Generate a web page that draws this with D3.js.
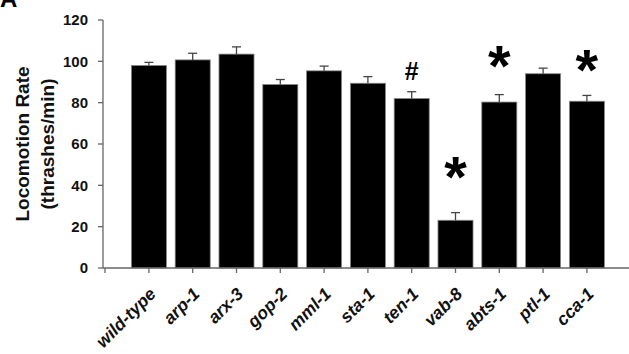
<!DOCTYPE html>
<html>
<head>
<meta charset="utf-8">
<script src="https://cdn.jsdelivr.net/npm/d3@7"></script>
<style>
  html, body { margin: 0; padding: 0; background: #fff; }
  svg { display: block; }
  text { font-family: Arial, "Liberation Sans", sans-serif; }
</style>
</head>
<body>
<svg id="chart" width="629" height="354"></svg>
<script>
const categories = ["wild-type", "arp-1", "arx-3", "gop-2", "mml-1", "sta-1", "ten-1", "vab-8", "abts-1", "ptl-1", "cca-1"];
const means      = [98.0, 100.7, 103.5, 88.8, 95.4, 89.4, 82.0, 23.1, 80.3, 94.0, 80.7];
const errors     = [1.5, 3.2, 3.5, 2.4, 2.3, 3.2, 3.3, 3.7, 3.6, 2.7, 2.8];
const marks      = [
  { cat: "ten-1",  sym: "#", level: 95.3 },
  { cat: "vab-8",  sym: "*", level: 50.8 },
  { cat: "abts-1", sym: "*", level: 104.3 },
  { cat: "cca-1",  sym: "*", level: 102.3 }
];
const yTicks = [0, 20, 40, 60, 80, 100, 120];

const svg = d3.select("#chart");
const axisX0 = 103, axisX1 = 629;
const y = d3.scaleLinear().domain([0, 120]).range([268, 20]);
const x = d3.scaleBand().domain(categories).range([127, 127 + 11 * 43.8]).paddingInner(0.2).paddingOuter(0.1);

const axisColor = "#666";

// bars
svg.append("g").selectAll("rect").data(categories).join("rect")
  .attr("x", d => x(d))
  .attr("width", x.bandwidth())
  .attr("y", (d, i) => y(means[i]))
  .attr("height", (d, i) => y(0) - y(means[i]))
  .attr("fill", "#000")
  .attr("stroke", "#888")
  .attr("stroke-width", 0.8);

// error bars (upper only)
const eg = svg.append("g").attr("stroke", "#444").attr("stroke-width", 1.3);
categories.forEach((c, i) => {
  const cx = x(c) + x.bandwidth() / 2;
  eg.append("line").attr("x1", cx).attr("x2", cx).attr("y1", y(means[i])).attr("y2", y(means[i] + errors[i]));
  eg.append("line").attr("x1", cx - 4.5).attr("x2", cx + 4.5).attr("y1", y(means[i] + errors[i])).attr("y2", y(means[i] + errors[i]));
});

// y axis
const ya = svg.append("g");
ya.append("line").attr("x1", axisX0).attr("x2", axisX0).attr("y1", y(0)).attr("y2", y(120)).attr("stroke", axisColor).attr("stroke-width", 1.3);
ya.selectAll("line.t").data(yTicks).join("line").attr("class", "t")
  .attr("x1", axisX0 - 5).attr("x2", axisX0).attr("y1", d => y(d)).attr("y2", d => y(d))
  .attr("stroke", axisColor).attr("stroke-width", 1.3);
ya.selectAll("text").data(yTicks).join("text")
  .attr("x", 88).attr("y", d => y(d)).attr("dy", "0.36em")
  .attr("text-anchor", "end").attr("font-weight", "bold").attr("font-size", 15)
  .attr("fill", "#111")
  .text(d => d);

// x axis
const xa = svg.append("g");
xa.append("line").attr("x1", axisX0).attr("x2", axisX1).attr("y1", y(0)).attr("y2", y(0)).attr("stroke", axisColor).attr("stroke-width", 1.3);
const tickXs = [axisX0 + 2].concat(categories.map(c => x(c) + x.bandwidth() / 2));
xa.selectAll("line.t").data(tickXs).join("line").attr("class", "t")
  .attr("x1", d => d).attr("x2", d => d).attr("y1", y(0)).attr("y2", y(0) + 5)
  .attr("stroke", axisColor).attr("stroke-width", 1.3);
xa.selectAll("text").data(categories).join("text")
  .attr("transform", d => `translate(${x(d) + x.bandwidth() / 2 + 8},${y(0) + 27}) rotate(-45)`)
  .attr("text-anchor", "end").attr("font-weight", "bold").attr("font-style", "italic")
  .attr("font-size", 17.5).attr("fill", "#111")
  .text(d => d);

// significance marks
svg.append("g").selectAll("text").data(marks).join("text")
  .attr("x", d => x(d.cat) + x.bandwidth() / 2)
  .attr("y", d => y(d.level))
  .attr("dy", d => d.sym === "*" ? "0.58em" : "0.36em")
  .attr("text-anchor", "middle").attr("font-weight", "bold")
  .attr("font-size", d => d.sym === "*" ? 58 : 25)
  .attr("fill", "#000")
  .text(d => d.sym);

// y axis title
const title = svg.append("text").attr("transform", "translate(29,144) rotate(-90)")
  .attr("text-anchor", "middle").attr("font-weight", "bold").attr("font-size", 19).attr("fill", "#111");
title.append("tspan").attr("x", 0).attr("y", 0).text("Locomotion Rate");
title.append("tspan").attr("x", 0).attr("y", 0).attr("dy", 25).text("(thrashes/min)");

// panel letter
svg.append("text").attr("x", 0).attr("y", 7).attr("font-weight", "bold").attr("font-size", 24).attr("fill", "#000").text("A");
</script>
</body>
</html>
